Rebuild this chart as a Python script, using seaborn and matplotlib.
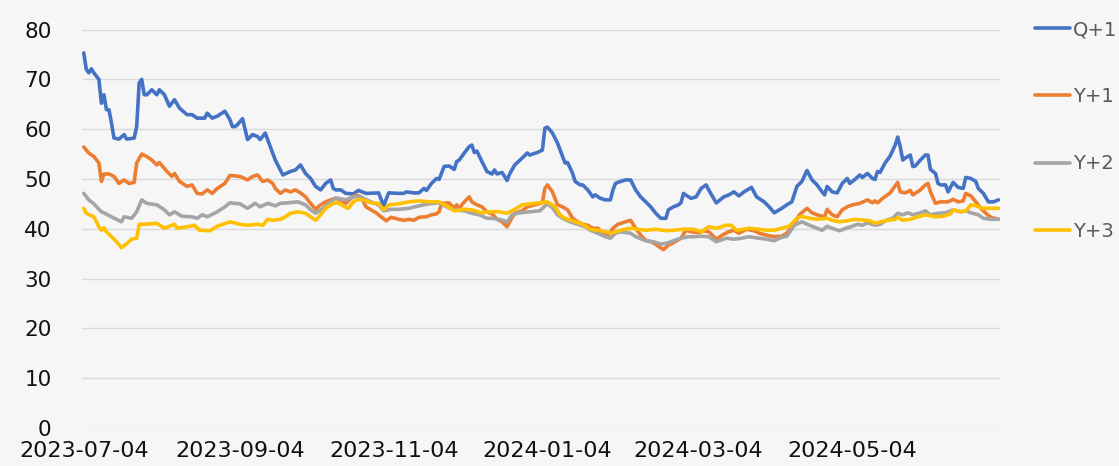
import numpy as np
import pandas as pd
import matplotlib
matplotlib.use("Agg")
import matplotlib.pyplot as plt
import matplotlib.dates as mdates
import seaborn as sns

# ---------------- data (day offset from START, value) ----------------
START = "2023-07-04"
series_names = ["Q+1", "Y+1", "Y+2", "Y+3"]
tick_labels = ["2023-07-04", "2023-09-04", "2023-11-04", "2024-01-04", "2024-03-04", "2024-05-04"]
y_ticks = [0, 10, 20, 30, 40, 50, 60, 70, 80]

q1_points = [
    (0, 75.3), (1, 72.0), (2, 71.3), (3, 72.1), (4, 71.3), (6, 70.0), (7, 65.2), (8, 66.9), (9, 63.9),
    (10, 63.9), (11, 61.2), (12, 58.2), (14, 58.0), (16, 58.9), (17, 58.0), (20, 58.2), (21, 60.5),
    (22, 69.3), (23, 70.0), (24, 66.9), (25, 66.9), (27, 67.9), (29, 66.9), (30, 67.9), (32, 66.9),
    (34, 64.6), (36, 65.9), (38, 64.2), (41, 62.9), (43, 62.9), (45, 62.2), (48, 62.2), (49, 63.2),
    (51, 62.2), (53, 62.6), (56, 63.6), (58, 61.9), (59, 60.5), (60, 60.5), (61, 60.9), (63, 62.1),
    (65, 57.9), (67, 58.9), (69, 58.5), (70, 57.9), (72, 59.2), (74, 56.5), (76, 53.8), (78, 51.8),
    (79, 50.8), (82, 51.5), (84, 51.8), (86, 52.8), (88, 51.1), (90, 50.1), (92, 48.5), (94, 47.8),
    (96, 49.1), (98, 49.8), (99, 48.1), (100, 47.8), (102, 47.8), (104, 47.1), (107, 47.0), (109, 47.7),
    (112, 47.1), (117, 47.2), (119, 44.6), (121, 47.2), (125, 47.1), (127, 47.1), (128, 47.4),
    (131, 47.2), (133, 47.2), (135, 48.1), (136, 47.7), (138, 49.1), (140, 50.1), (141, 49.9),
    (143, 52.5), (145, 52.6), (147, 51.9), (148, 53.5), (149, 53.8), (151, 55.2), (153, 56.5),
    (154, 56.8), (155, 55.3), (156, 55.6), (158, 53.5), (160, 51.5), (162, 51.0), (163, 51.8),
    (164, 51.0), (166, 51.3), (168, 49.7), (169, 51.0), (171, 52.8), (174, 54.2), (176, 55.2),
    (177, 54.8), (180, 55.3), (182, 55.8), (183, 60.2), (184, 60.4), (186, 59.2), (188, 57.2),
    (190, 54.5), (191, 53.2), (192, 53.3), (194, 51.1), (195, 49.5), (197, 48.8), (198, 48.8),
    (200, 47.8), (202, 46.4), (203, 46.8), (205, 46.1), (207, 45.8), (209, 45.8), (210, 47.8),
    (211, 49.1), (213, 49.5), (215, 49.8), (217, 49.8), (219, 47.8), (221, 46.4), (223, 45.4),
    (225, 44.4), (227, 43.1), (229, 42.1), (231, 42.1), (232, 43.8), (234, 44.4), (236, 44.8),
    (237, 45.2), (238, 47.1), (240, 46.4), (241, 46.1), (243, 46.4), (245, 48.1), (247, 48.8),
    (248, 47.8), (251, 45.2), (254, 46.4), (256, 46.8), (258, 47.4), (260, 46.6), (262, 47.4),
    (265, 48.3), (267, 46.4), (270, 45.4), (272, 44.4), (274, 43.2), (277, 44.1), (279, 44.8),
    (281, 45.4), (283, 48.5), (285, 49.5), (287, 51.7), (289, 49.8), (291, 48.8), (293, 47.4),
    (294, 46.8), (295, 48.5), (297, 47.4), (299, 47.2), (301, 49.1), (303, 50.1), (304, 49.1),
    (306, 49.9), (308, 50.8), (309, 50.3), (311, 51.1), (313, 50.1), (314, 49.9), (315, 51.5),
    (316, 51.3), (318, 53.2), (320, 54.6), (322, 56.8), (323, 58.4), (324, 56.5), (325, 53.8),
    (326, 54.2), (328, 54.8), (329, 52.5), (330, 52.6), (332, 53.8), (334, 54.8), (335, 54.8),
    (336, 51.9), (338, 51.1), (339, 49.1), (340, 48.8), (342, 48.8), (343, 47.4), (345, 49.3),
    (347, 48.3), (349, 48.1), (350, 50.3), (352, 50.1), (354, 49.5), (355, 48.1), (357, 47.1),
    (359, 45.4), (361, 45.4), (363, 45.8),
]

y1_points = [
    (0, 56.4), (2, 55.2), (4, 54.5), (6, 53.2), (7, 49.5), (8, 51.0), (10, 51.0), (12, 50.5), (14, 49.1),
    (16, 49.8), (18, 49.1), (20, 49.3), (21, 53.2), (23, 55.0), (25, 54.5), (27, 53.8), (29, 52.8),
    (30, 53.3), (33, 51.5), (35, 50.5), (36, 51.1), (38, 49.5), (41, 48.5), (43, 48.8), (45, 47.1),
    (47, 47.0), (49, 47.8), (51, 47.1), (53, 48.1), (56, 49.1), (58, 50.7), (62, 50.5), (65, 49.8),
    (67, 50.5), (69, 50.8), (71, 49.5), (73, 49.8), (75, 49.1), (76, 48.1), (78, 47.1), (80, 47.8),
    (82, 47.4), (84, 47.8), (86, 47.2), (88, 46.4), (90, 45.1), (92, 43.9), (94, 44.8), (96, 45.4),
    (98, 45.8), (100, 46.1), (102, 45.8), (104, 45.1), (106, 46.1), (108, 46.8), (110, 46.4),
    (112, 44.4), (114, 43.8), (116, 43.2), (118, 42.4), (120, 41.6), (122, 42.3), (125, 41.9),
    (127, 41.7), (129, 41.9), (131, 41.7), (133, 42.3), (136, 42.4), (138, 42.8), (140, 43.0),
    (141, 43.4), (142, 45.1), (145, 45.2), (147, 44.1), (148, 44.8), (149, 44.1), (151, 45.4),
    (153, 46.4), (154, 45.4), (156, 44.8), (158, 44.4), (160, 43.4), (162, 43.0), (164, 41.9),
    (166, 41.4), (168, 40.4), (169, 41.4), (171, 43.1), (174, 43.6), (176, 44.4), (179, 44.8),
    (182, 45.2), (183, 48.1), (184, 48.8), (186, 47.4), (188, 44.8), (190, 44.4), (192, 43.8),
    (194, 42.1), (196, 41.4), (198, 40.9), (200, 40.7), (202, 40.1), (204, 40.1), (206, 39.2),
    (208, 38.7), (210, 40.1), (212, 40.9), (215, 41.4), (217, 41.7), (219, 40.1), (221, 38.7),
    (223, 37.7), (226, 37.2), (228, 36.5), (230, 35.8), (232, 36.7), (234, 37.2), (237, 38.1),
    (239, 39.7), (241, 39.4), (244, 39.2), (246, 39.6), (248, 39.4), (251, 37.9), (254, 38.9),
    (256, 39.4), (258, 39.7), (260, 39.1), (263, 39.9), (266, 39.6), (268, 39.1), (271, 38.7),
    (274, 38.4), (277, 38.5), (279, 39.1), (282, 41.1), (284, 42.8), (287, 44.1), (289, 43.2),
    (291, 42.8), (294, 42.4), (295, 43.9), (297, 42.8), (299, 42.4), (301, 43.8), (303, 44.4),
    (305, 44.8), (308, 45.1), (311, 45.8), (313, 45.2), (314, 45.6), (315, 45.2), (317, 46.1),
    (320, 47.2), (323, 49.3), (324, 47.4), (326, 47.2), (328, 47.7), (329, 46.8), (332, 47.8),
    (334, 48.8), (335, 49.1), (336, 47.4), (338, 45.1), (340, 45.4), (343, 45.4), (345, 45.9),
    (347, 45.4), (349, 45.6), (350, 47.1), (352, 46.6), (354, 45.4), (356, 44.1), (358, 43.1),
    (360, 42.3), (363, 41.9),
]

y2_points = [
    (0, 47.1), (2, 45.8), (4, 45.0), (7, 43.4), (8, 43.2), (11, 42.4), (15, 41.4), (16, 42.4), (19, 42.1),
    (21, 43.4), (23, 45.8), (25, 45.1), (29, 44.8), (32, 43.8), (34, 42.8), (36, 43.4), (39, 42.5),
    (43, 42.4), (45, 42.1), (47, 42.8), (49, 42.4), (53, 43.4), (56, 44.4), (58, 45.2), (62, 45.0),
    (65, 44.1), (68, 45.1), (70, 44.4), (73, 45.1), (76, 44.6), (78, 45.1), (81, 45.2), (85, 45.4),
    (88, 44.8), (90, 43.8), (92, 43.1), (95, 44.1), (98, 45.4), (100, 46.2), (104, 45.8), (106, 46.2),
    (109, 46.6), (111, 46.1), (114, 45.4), (117, 44.8), (119, 43.6), (122, 43.9), (125, 43.9),
    (129, 44.1), (133, 44.6), (137, 45.0), (141, 45.2), (144, 44.4), (147, 43.8), (151, 43.6),
    (154, 43.1), (157, 42.8), (160, 42.1), (162, 42.1), (165, 41.9), (168, 41.4), (170, 42.8),
    (173, 43.2), (177, 43.4), (181, 43.6), (184, 45.0), (186, 44.2), (188, 42.8), (190, 42.1),
    (193, 41.4), (196, 40.9), (199, 40.4), (201, 39.7), (204, 39.1), (207, 38.4), (209, 38.1),
    (211, 39.1), (213, 39.4), (217, 39.1), (219, 38.4), (223, 37.6), (226, 37.4), (229, 36.9),
    (232, 37.2), (234, 37.6), (237, 38.1), (240, 38.4), (242, 38.4), (245, 38.5), (248, 38.4),
    (251, 37.4), (255, 38.1), (258, 37.9), (261, 38.1), (264, 38.4), (268, 38.1), (271, 37.9),
    (274, 37.6), (277, 38.3), (279, 38.5), (282, 40.7), (285, 41.4), (287, 40.9), (291, 40.1),
    (293, 39.7), (295, 40.5), (298, 39.9), (300, 39.6), (303, 40.2), (305, 40.5), (307, 40.9),
    (309, 40.7), (311, 41.2), (314, 40.7), (316, 40.9), (318, 41.6), (321, 42.1), (323, 43.1),
    (325, 42.8), (327, 43.2), (329, 42.8), (332, 43.2), (334, 43.6), (336, 42.8), (339, 43.1),
    (342, 43.2), (345, 43.8), (348, 43.4), (350, 43.6), (352, 43.2), (355, 42.8), (357, 42.1),
    (360, 41.9), (363, 41.9),
]

y3_points = [
    (0, 44.1), (1, 43.1), (4, 42.4), (6, 40.4), (7, 39.7), (8, 40.2), (9, 39.4), (11, 38.4), (13, 37.4),
    (15, 36.2), (17, 37.0), (19, 37.9), (21, 38.1), (22, 40.9), (24, 40.9), (29, 41.1), (32, 40.1),
    (36, 40.9), (37, 40.1), (41, 40.4), (44, 40.7), (46, 39.7), (50, 39.6), (53, 40.5), (58, 41.4),
    (62, 40.9), (65, 40.7), (69, 40.9), (71, 40.7), (73, 41.9), (75, 41.7), (78, 41.9), (80, 42.4),
    (82, 43.1), (85, 43.4), (88, 43.1), (90, 42.4), (92, 41.7), (94, 42.8), (96, 44.1), (99, 45.1),
    (101, 45.2), (103, 44.6), (105, 44.1), (107, 45.4), (109, 45.9), (111, 45.8), (114, 45.2),
    (117, 45.1), (119, 43.8), (121, 44.8), (125, 45.0), (129, 45.4), (133, 45.6), (137, 45.4),
    (141, 45.4), (144, 44.6), (147, 43.6), (151, 43.9), (154, 43.8), (158, 43.2), (161, 43.4),
    (165, 43.4), (168, 43.1), (171, 43.9), (174, 44.8), (177, 45.0), (181, 45.2), (184, 45.4),
    (187, 44.4), (189, 42.8), (191, 42.1), (195, 41.4), (198, 40.9), (201, 39.9), (204, 39.7),
    (207, 39.4), (209, 39.1), (213, 39.7), (217, 40.1), (223, 39.7), (227, 39.9), (231, 39.6),
    (234, 39.7), (238, 39.9), (242, 39.9), (245, 39.4), (248, 40.4), (251, 40.1), (253, 40.4),
    (255, 40.7), (257, 40.7), (259, 39.7), (262, 39.9), (264, 40.1), (268, 39.9), (271, 39.7),
    (274, 39.7), (277, 40.1), (280, 40.5), (283, 42.1), (285, 42.5), (288, 42.1), (291, 41.9),
    (295, 42.1), (297, 41.7), (300, 41.4), (303, 41.6), (306, 41.9), (312, 41.6), (314, 41.1),
    (318, 41.6), (322, 41.9), (323, 42.3), (325, 41.7), (328, 41.9), (331, 42.4), (334, 42.8),
    (338, 42.4), (341, 42.5), (344, 43.0), (345, 43.8), (348, 43.4), (350, 43.6), (352, 44.8),
    (354, 44.6), (357, 44.1), (360, 44.1), (363, 44.1),
]

colors = ["#4472C4", "#ED7D31", "#A5A5A5", "#FFC000"]
BG = "#f6f6f6"

# ---------------- build long table ----------------
start = pd.Timestamp(START)
frames = []
for name, pts in zip(series_names, [q1_points, y1_points, y2_points, y3_points]):
    d = np.array([p[0] for p in pts], dtype=float)
    v = np.array([p[1] for p in pts], dtype=float)
    frames.append(pd.DataFrame({"date": start + pd.to_timedelta(d, unit="D"),
                                "value": v, "series": name}))
df = pd.concat(frames, ignore_index=True)

# ---------------- plot ----------------
sns.set_theme(style="white")
plt.rcParams["font.family"] = ["DejaVu Sans"]

W, H = 1119, 466
fig = plt.figure(figsize=(W / 100, H / 100), dpi=100, facecolor=BG)
ax = fig.add_axes([82 / W, 38 / H, 918 / W, 398.5 / H])
ax.set_facecolor(BG)

sns.lineplot(data=df, x="date", y="value", hue="series", hue_order=series_names,
             palette=colors, linewidth=2.6, estimator=None, sort=True, ax=ax)

ax.set_ylim(0, 80)
ax.set_yticks(y_ticks)
ax.set_xlim(start - pd.Timedelta(days=0.7), start + pd.Timedelta(days=363.6))
ax.set_xticks([pd.Timestamp(t) for t in tick_labels])
ax.xaxis.set_major_formatter(mdates.DateFormatter("%Y-%m-%d"))
ax.set_xlabel("")
ax.set_ylabel("")
ax.set_axisbelow(True)
ax.yaxis.grid(True, color="#d9d9d9", linewidth=1.0)
ax.xaxis.grid(False)
for s in ax.spines.values():
    s.set_visible(False)
ax.tick_params(axis="both", length=0, colors="#111111")
ax.tick_params(axis="y", labelsize=15.5, pad=22)
ax.tick_params(axis="x", labelsize=16, pad=9.5)

handles, labels = ax.get_legend_handles_labels()
for h in handles:
    h.set_linewidth(2.6)
leg = ax.legend(handles, labels, loc="upper left",
                bbox_to_anchor=(1035 / W, 1 - 20 / H), bbox_transform=fig.transFigure,
                frameon=False, fontsize=14, handlelength=1.8, handletextpad=0.15,
                labelspacing=2.48, borderpad=0, borderaxespad=0)
for t in leg.get_texts():
    t.set_color("#595959")

fig.savefig("out.png", dpi=100, facecolor=BG)
